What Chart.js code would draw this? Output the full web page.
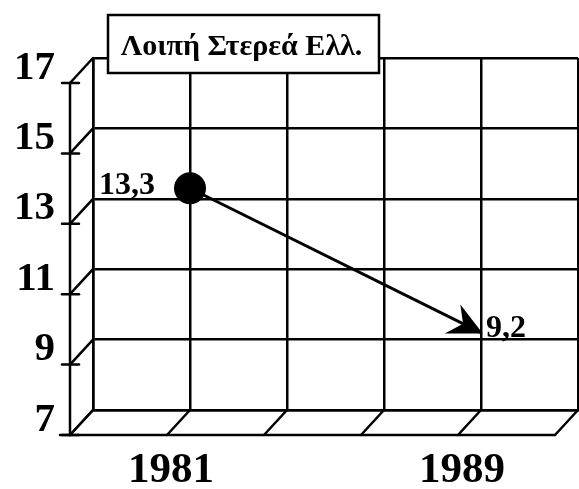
<!DOCTYPE html>
<html>
<head>
<meta charset="utf-8">
<script src="https://cdn.jsdelivr.net/npm/chart.js@4/dist/chart.umd.min.js"></script>
<style>
  html, body { margin: 0; padding: 0; background: #fff; }
  #wrap { width: 579px; height: 489px; }
</style>
</head>
<body>
<div id="wrap"><canvas id="c" width="579" height="489"></canvas></div>
<script>
// Chart content
const title = 'Λοιπή Στερεά Ελλ.';
const xSlots = ['', '1981', '', '', '1989', ''];   // x-axis grid slots and their labels
const years = ['1981', '1989'];
const values = [13.3, 9.2];
const valueLabels = ['13,3', '9,2'];
const yTicks = [7, 9, 11, 13, 15, 17];

// Perspective offset of the front edge of the box frame
const DEPTH_X = -23;
const DEPTH_Y = 25;
const INK = '#000';

function seg(ctx, x1, y1, x2, y2) {
  ctx.beginPath();
  ctx.moveTo(x1, y1);
  ctx.lineTo(x2, y2);
  ctx.stroke();
}

// Side wall, floor and axis labels of the pseudo-3D frame
const frame3d = {
  id: 'frame3d',
  beforeDatasetsDraw(chart) {
    const { ctx, chartArea: a, scales: { x, y } } = chart;
    ctx.save();
    ctx.strokeStyle = INK;
    ctx.lineWidth = 2.5;
    ctx.lineCap = 'round';
    const fx = a.left + DEPTH_X;
    const top = y.getPixelForValue(yTicks[yTicks.length - 1]);
    // front vertical axis
    seg(ctx, fx, top + DEPTH_Y, fx, a.bottom + DEPTH_Y);
    // wall diagonals and tick marks
    yTicks.forEach(v => {
      const py = y.getPixelForValue(v);
      seg(ctx, a.left, py, fx, py + DEPTH_Y);
      seg(ctx, fx - 8, py + DEPTH_Y, fx + 9, py + DEPTH_Y);
    });
    // floor front edge
    seg(ctx, fx - 10, a.bottom + DEPTH_Y, x.getPixelForValue(xSlots.length - 1) + DEPTH_X, a.bottom + DEPTH_Y);
    // floor diagonals
    xSlots.forEach((_, i) => {
      const px = x.getPixelForValue(i);
      seg(ctx, px, a.bottom, px + DEPTH_X, a.bottom + DEPTH_Y);
    });
    // value axis labels
    ctx.fillStyle = INK;
    ctx.font = 'bold 41px "Liberation Serif"';
    ctx.textAlign = 'right';
    ctx.textBaseline = 'middle';
    yTicks.forEach(v => {
      ctx.fillText(String(v), fx - 15, y.getPixelForValue(v) + DEPTH_Y - 15);
    });
    // category labels
    ctx.font = 'bold 43px "Liberation Serif"';
    ctx.textAlign = 'center';
    xSlots.forEach((lab, i) => {
      if (lab) ctx.fillText(lab, x.getPixelForValue(i) + DEPTH_X + 4, a.bottom + DEPTH_Y + 36);
    });
    ctx.restore();
  },
  afterDatasetsDraw(chart) {
    const { ctx } = chart;
    const pts = chart.getDatasetMeta(0).data;
    ctx.save();
    // arrowhead on the last point
    const p0 = pts[pts.length - 2], p1 = pts[pts.length - 1];
    const ang = Math.atan2(p1.y - p0.y, p1.x - p0.x);
    ctx.translate(p1.x, p1.y);
    ctx.rotate(ang);
    ctx.fillStyle = INK;
    ctx.beginPath();
    ctx.moveTo(2, 0);
    ctx.lineTo(-31, -16);
    ctx.lineTo(-20, 0);
    ctx.lineTo(-32, 17);
    ctx.closePath();
    ctx.fill();
    ctx.restore();

    // value labels
    ctx.save();
    ctx.fillStyle = INK;
    ctx.font = 'bold 32px "Liberation Serif"';
    ctx.textBaseline = 'middle';
    ctx.textAlign = 'right';
    ctx.fillText(valueLabels[0], pts[0].x - 35, pts[0].y - 3);
    ctx.textAlign = 'left';
    ctx.fillText(valueLabels[1], pts[1].x + 5, pts[1].y - 4);
    ctx.restore();
  },
  afterDraw(chart) {
    const { ctx, chartArea: a } = chart;
    // title box overlapping the top of the grid
    const bx = a.left + 15, by = a.top - 43, bw = 271, bh = 58;
    ctx.save();
    ctx.fillStyle = '#fff';
    ctx.fillRect(bx, by, bw, bh);
    ctx.strokeStyle = INK;
    ctx.lineWidth = 2.5;
    ctx.strokeRect(bx, by, bw, bh);
    ctx.fillStyle = INK;
    ctx.font = 'bold 30px "Liberation Serif"';
    ctx.textAlign = 'center';
    ctx.textBaseline = 'alphabetic';
    ctx.fillText(title, bx + bw / 2 - 2, by + 40);
    ctx.restore();
  }
};

new Chart(document.getElementById('c'), {
  type: 'line',
  data: {
    labels: xSlots,
    datasets: [{
      data: years.map((yr, i) => ({ x: yr, y: values[i] })),
      borderColor: INK,
      borderWidth: 3,
      backgroundColor: INK,
      pointRadius: [16, 0],
      pointHoverRadius: [16, 0],
      pointBackgroundColor: INK,
      pointBorderWidth: 0,
      tension: 0
    }]
  },
  options: {
    responsive: false,
    animation: false,
    events: [],
    layout: { autoPadding: false, padding: { left: 93, right: 1, top: 58, bottom: 79 } },
    plugins: { legend: { display: false }, title: { display: false }, tooltip: { enabled: false } },
    scales: {
      x: {
        type: 'category',
        offset: false,
        grid: { color: INK, lineWidth: 2.5, drawTicks: false },
        border: { display: true, color: INK, width: 2.5 },
        ticks: { display: false }
      },
      y: {
        min: 7, max: 17,
        grid: { color: INK, lineWidth: 2.5, drawTicks: false },
        border: { display: true, color: INK, width: 2.5 },
        ticks: { display: false, stepSize: 2 }
      }
    }
  },
  plugins: [frame3d]
});
</script>
</body>
</html>
